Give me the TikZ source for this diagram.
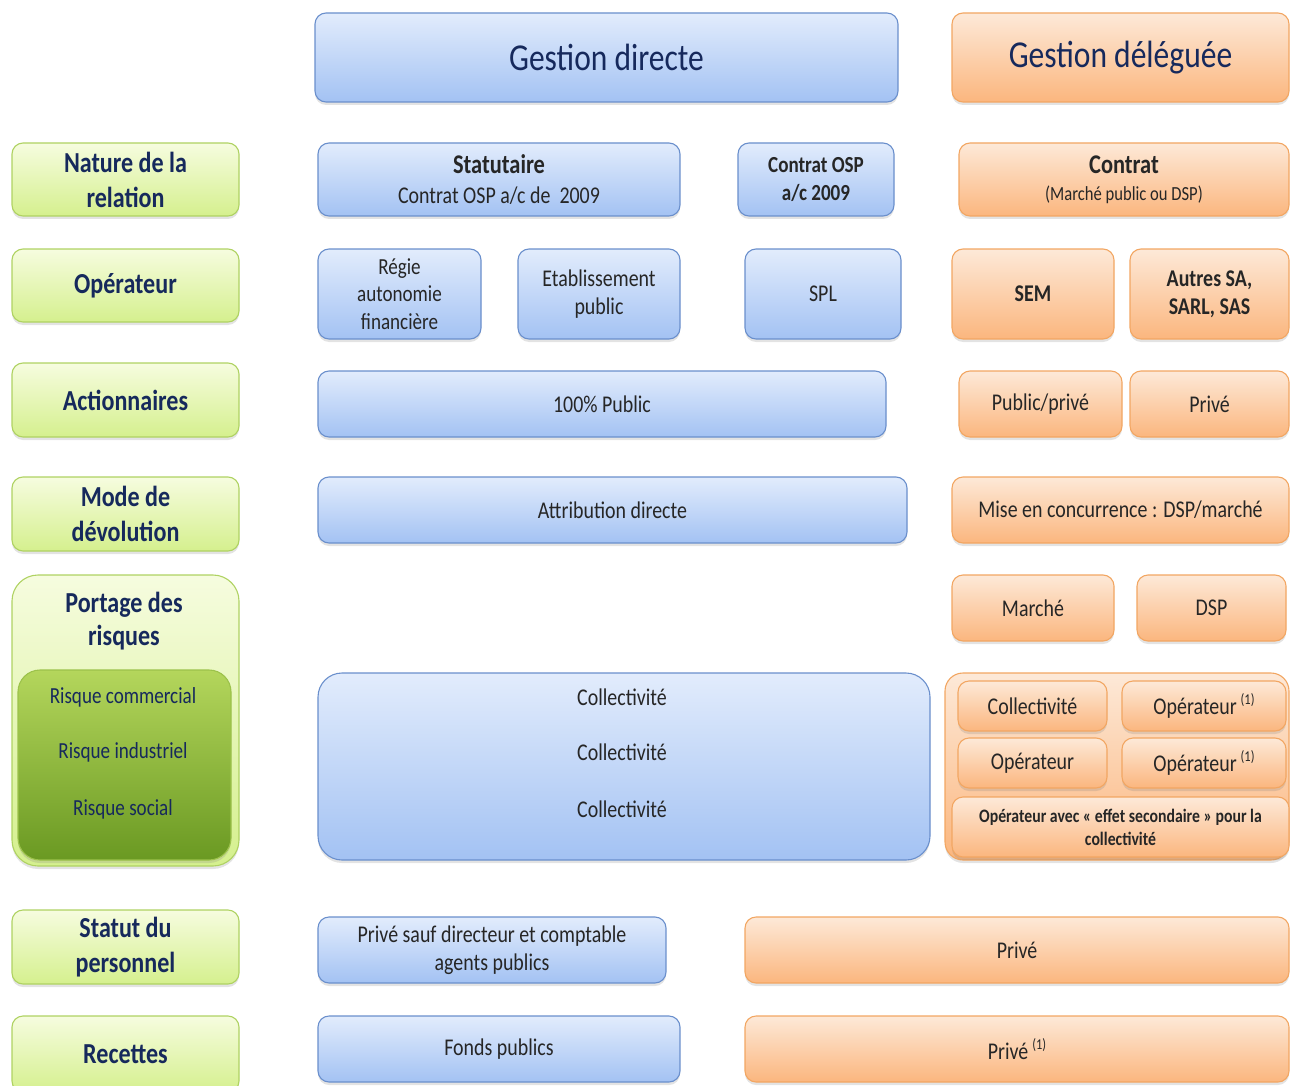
\documentclass[tikz,border=0pt]{standalone}
\usepackage{fontspec}
\setmainfont{Carlito}[FakeStretch=0.83]
\usetikzlibrary{shadows}
\definecolor{bTop}{HTML}{E2ECFC}
\definecolor{bBot}{HTML}{A3C2F3}
\definecolor{bBorder}{HTML}{6A8FCC}
\definecolor{oTop}{HTML}{FDE9D8}
\definecolor{oBot}{HTML}{FBB67E}
\definecolor{oBorder}{HTML}{F2A662}
\definecolor{gTop}{HTML}{F6FCDF}
\definecolor{gBot}{HTML}{D5F08E}
\definecolor{gBorder}{HTML}{AFD262}
\definecolor{dgTop}{HTML}{B4D65C}
\definecolor{dgBot}{HTML}{6A9922}
\definecolor{dgBorder}{HTML}{9CC24B}
\definecolor{navy}{HTML}{16295C}
\definecolor{txt}{HTML}{262626}
\newcommand{\supone}{\raisebox{0.45em}{\fontsize{15}{15}\selectfont(1)}}
\newcommand{\bx}[7]{%
  \node[#6, minimum width={(#4-#2)*1pt}, minimum height={(#5-#3)*1pt}] (#1) at ({(#2+#4)/2},{(#3+#5)/2}) {#7};}
\tikzset{
  base/.style={rounded corners=11pt, line width=1.1pt, inner sep=2pt, align=center,
    drop shadow={shadow xshift=0pt, shadow yshift=-3pt, opacity=0.22}},
  bluebox/.style={base, draw=bBorder, top color=bTop, bottom color=bBot, text=txt,
    font=\fontsize{24}{28}\selectfont},
  orangebox/.style={base, draw=oBorder, top color=oTop, bottom color=oBot, text=txt,
    font=\fontsize{24}{28}\selectfont},
  greenbox/.style={base, draw=gBorder, top color=gTop, bottom color=gBot, text=navy,
    font=\fontsize{29}{35}\selectfont\bfseries},
  dgreenbox/.style={base, draw=dgBorder, top color=dgTop, bottom color=dgBot},
  hfont/.style={font=\fontsize{38}{42}\selectfont, text=navy},
  boldtxt/.style={font=\fontsize{24}{28}\selectfont\bfseries},
  plain/.style={inner sep=0pt, align=center}
}
\begin{document}
\begin{tikzpicture}[x=1pt,y=-1pt]
\useasboundingbox (0,0) rectangle (1290,1086);
% headers
\bx{gd}{315}{13}{898}{102}{bluebox,hfont}{Gestion directe}
\bx{gdel}{952}{13}{1289}{102}{orangebox,hfont}{Gestion déléguée}
% left labels
\bx{l1}{12}{143}{239}{216}{greenbox}{Nature de la\\relation}
\bx{l2}{12}{249}{239}{322}{greenbox}{Opérateur}
\bx{l3}{12}{363}{239}{437}{greenbox}{Actionnaires}
\bx{l4}{12}{477}{239}{551}{greenbox}{Mode de\\dévolution}
\bx{l5}{12}{575}{239}{866}{greenbox, rounded corners=26pt}{}
\node[plain, text=navy, font=\fontsize{29}{33}\selectfont\bfseries] (l5t) at (124,621) {Portage des\\risques};
\bx{l5i}{18}{670}{231}{860}{dgreenbox, rounded corners=22pt}{}
\node[plain, text=navy, font=\fontsize{23}{26}\selectfont] (rk1) at (123,697) {Risque commercial};
\node[plain, text=navy, font=\fontsize{23}{26}\selectfont] (rk2) at (123,752) {Risque industriel};
\node[plain, text=navy, font=\fontsize{23}{26}\selectfont] (rk3) at (123,809) {Risque social};
\bx{l6}{12}{910}{239}{984}{greenbox}{Statut du\\personnel}
\bx{l7}{12}{1016}{239}{1092}{greenbox}{Recettes}
% row 1
\bx{r1a}{318}{143}{680}{216}{bluebox, font=\fontsize{24}{30}\selectfont}{{\fontsize{27}{30}\selectfont\bfseries Statutaire}\\Contrat OSP a/c de\ \ 2009}
\bx{r1b}{738}{143}{894}{216}{bluebox, font=\fontsize{23}{28}\selectfont\bfseries}{Contrat OSP\\a/c 2009}
\bx{r1c}{959}{143}{1289}{216}{orangebox, font=\fontsize{20}{27}\selectfont}{{\fontsize{27}{27}\selectfont\bfseries Contrat}\\(Marché public ou DSP)}
% row 2
\bx{r2a}{318}{249}{481}{339}{bluebox, font=\fontsize{23}{27.5}\selectfont}{Régie\\autonomie\\financière}
\bx{r2b}{518}{249}{680}{339}{bluebox}{Etablissement\\public}
\bx{r2c}{745}{249}{901}{339}{bluebox}{SPL}
\bx{r2d}{952}{249}{1114}{339}{orangebox, boldtxt}{SEM}
\bx{r2e}{1130}{249}{1289}{339}{orangebox, boldtxt}{Autres SA,\\SARL, SAS}
% row 3
\bx{r3a}{318}{371}{886}{437}{bluebox}{100\% Public}
\bx{r3b}{959}{371}{1122}{437}{orangebox}{Public/privé}
\bx{r3c}{1130}{371}{1289}{437}{orangebox}{Privé}
% row 4
\bx{r4a}{318}{477}{907}{543}{bluebox}{Attribution directe}
\bx{r4b}{952}{477}{1289}{543}{orangebox}{Mise en concurrence : DSP/marché}
% row 5
\bx{r5a}{952}{575}{1114}{641}{orangebox}{Marché}
\bx{r5b}{1137}{575}{1286}{641}{orangebox}{DSP}
% risks
\bx{r6}{318}{673}{930}{860}{bluebox, rounded corners=24pt}{}
\node[plain, text=txt, font=\fontsize{24}{28}\selectfont] (c1) at (622,697) {Collectivité};
\node[plain, text=txt, font=\fontsize{24}{28}\selectfont] (c2) at (622,752) {Collectivité};
\node[plain, text=txt, font=\fontsize{24}{28}\selectfont] (c3) at (622,809) {Collectivité};
\bx{r6o}{945}{673}{1289}{860}{orangebox, rounded corners=18pt}{}
\bx{r6a}{958}{681}{1107}{731}{orangebox}{Collectivité}
\bx{r6b}{1122}{681}{1286}{731}{orangebox}{Opérateur\,\supone}
\bx{r6c}{958}{738}{1107}{788}{orangebox}{Opérateur}
\bx{r6d}{1122}{738}{1286}{788}{orangebox}{Opérateur\,\supone}
\bx{r6e}{952}{797}{1289}{857}{orangebox, font=\fontsize{19}{23}\selectfont\bfseries}{Opérateur avec « effet secondaire » pour la\\collectivité}
% statut
\bx{r7a}{318}{917}{666}{983}{bluebox}{Privé sauf directeur et comptable\\agents publics}
\bx{r7b}{745}{917}{1289}{983}{orangebox}{Privé}
% recettes
\bx{r8a}{318}{1016}{680}{1082}{bluebox}{Fonds publics}
\bx{r8b}{745}{1016}{1289}{1082}{orangebox}{Privé\,\supone}
\end{tikzpicture}
\end{document}
